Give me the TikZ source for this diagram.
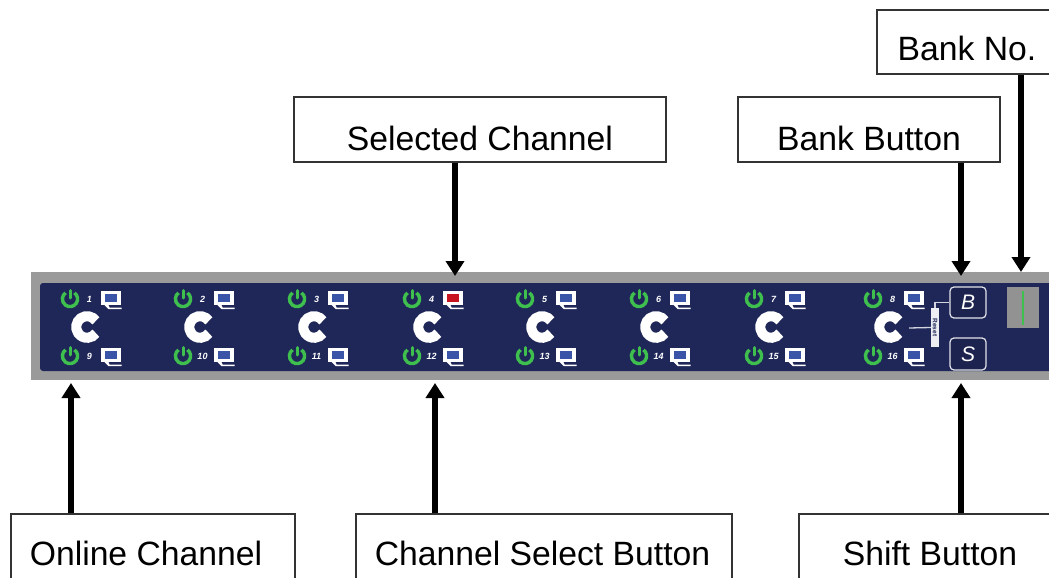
\documentclass[tikz,border=0pt]{standalone}
\usepackage{fontspec}
\setmainfont{Liberation Sans}
\usetikzlibrary{arrows.meta}
\definecolor{panelgrey}{HTML}{9A9A9A}
\definecolor{navy}{HTML}{1F2758}
\definecolor{ledgreen}{HTML}{3FC04E}
\definecolor{screenblue}{HTML}{3A55A8}
\definecolor{screenred}{HTML}{C8141E}
\definecolor{boxline}{HTML}{333333}
\newcommand{\boxtext}[2]{\fontsize{33.7}{40}\selectfont\raisebox{-#1pt}[0pt][0pt]{#2}}
\tikzset{
  callout/.style={draw=boxline,line width=1.4pt,fill=white,inner sep=0pt,text=black},
  pointer/.style={line width=5.5pt,black,-{Triangle[length=15pt,width=18pt]}},
  chnum/.style={text=white,inner sep=0pt,font=\fontsize{9}{9}\selectfont\bfseries\itshape},
  keybox/.style={draw=white!88!navy,line width=1.2pt,rounded corners=4pt,fill=navy!90!black,
    minimum width=36pt,inner sep=0pt,text=white,font=\fontsize{21}{21}\selectfont\itshape},
  wire/.style={draw=white!80!navy,line width=1.3pt},
}
% #1 x of power icon, #2 y, #3 number, #4 screen colour, #5 number x offset, #6 monitor offset
\newcommand{\chcell}[6]{
  \draw[ledgreen,line width=3.4pt] ({#1+4.47},{#2-6.15}) arc[start angle=-54,end angle=234,radius=7.6];
  \draw[ledgreen,line width=3pt,line cap=round] (#1,#2-8.5) -- (#1,#2-1);
  \node[chnum] (num#3) at ({#1+#5},#2) {#3};
  \fill[white] ({#1+#6-10},#2-8) rectangle ({#1+#6+10},#2+6);
  \fill[white] ({#1+#6-6},#2+6) -- ({#1+#6-2},#2+10) -- ({#1+#6+11},#2+10) -- ({#1+#6+11},#2+8.5) -- ({#1+#6-1},#2+8.5) -- ({#1+#6-2},#2+6) -- cycle;
  \fill[#4] ({#1+#6-6},#2-5) rectangle ({#1+#6+6},#2+3);
}
\begin{document}
\begin{tikzpicture}[x=1pt,y=-1pt]
\useasboundingbox (0,0) rectangle (1049,578);
\clip (0,0) rectangle (1049,578);
\fill[white] (0,0) rectangle (1049,578);
% panel
\fill[panelgrey] (31,272) rectangle (1049,380);
\fill[navy,rounded corners=3pt] (40,283) rectangle (1060,371);
% channels
\foreach \px/\top/\bot in {70/1/9,183/2/10,297/3/11,412/4/12,525/5/13,639/6/14,754/7/15,873/8/16}{
  \ifnum\top=4
    \chcell{\px}{299}{\top}{screenred}{19.5}{40.5}
  \else
    \chcell{\px}{299}{\top}{screenblue}{19.5}{40.5}
  \fi
  \chcell{\px}{356}{\bot}{screenblue}{19.5}{40.5}
  \draw[white,line width=10pt] ({\px+17+8.9},{327-6.2}) arc[start angle=-35,delta angle=-290,radius=10.8];
}
% right-hand controls
\node[keybox,minimum height=31pt] (bbtn) at (968,302.5) {B};
\node[keybox,minimum height=32pt] (sbtn) at (968,354) {S};
\node[fill=white!92!navy,minimum width=8pt,minimum height=39pt,inner sep=0pt] (reset) at (935,327.5)
  {\rotatebox{-90}{\textcolor{navy}{\fontsize{6.5}{7}\selectfont\bfseries Reset}}};
\coordinate (cend) at (909,328);
\draw[wire] (cend) -- (reset.west);
\draw[wire] (reset.north) |- (bbtn.west);
\node[fill=panelgrey!95!black,minimum width=32pt,minimum height=41pt,inner sep=0pt] (bankdisp) at (1023,307.5) {};
\draw[ledgreen,line width=2.4pt] (bankdisp.center |- 0,291) -- (bankdisp.center |- 0,325);
% callouts
\node[callout,minimum width=372pt,minimum height=65pt] (sel) at (480,129.5) {\boxtext{20.5}{Selected Channel}};
\node[callout,minimum width=262pt,minimum height=65pt] (bankb) at (869,129.5) {\boxtext{20.5}{Bank Button}};
\node[callout,minimum width=180pt,minimum height=64pt] (bankn) at (967,42) {\boxtext{18}{Bank No.}};
\node[callout,minimum width=284pt,minimum height=70pt] (online) at (153,549) {\boxtext{16}{\kern-14pt Online Channel}};
\node[callout,minimum width=376pt,minimum height=70pt] (chsel) at (544,549) {\boxtext{16}{\kern-3pt Channel Select Button}};
\node[callout,minimum width=262pt,minimum height=70pt] (shift) at (930,549) {\boxtext{16}{Shift Button}};
% arrow targets
\coordinate (tsel) at (455,276);
\coordinate (tbank) at (961,276);
\coordinate (tno) at (1021,272);
\coordinate (tonl) at (71,383);
\coordinate (tcs) at (435,383);
\coordinate (tsh) at (961,383);
\draw[pointer] (tsel |- sel.south) -- (tsel);
\draw[pointer] (tbank |- bankb.south) -- (tbank);
\draw[pointer] (tno |- bankn.south) -- (tno);
\draw[pointer] (tonl |- online.north) -- (tonl);
\draw[pointer] (tcs |- chsel.north) -- (tcs);
\draw[pointer] (tsh |- shift.north) -- (tsh);
\end{tikzpicture}
\end{document}
